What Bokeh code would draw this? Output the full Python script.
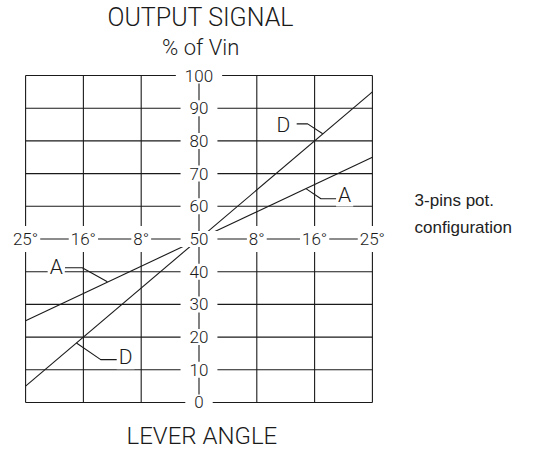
from bokeh.plotting import figure
from bokeh.models import Range1d
from bokeh.core.properties import value
from bokeh.embed import file_html
from bokeh.resources import INLINE

# ---- data ----
grid_pos = [-3, -2, -1, 0, 1, 2, 3]            # evenly spaced angle grid lines
angle_pos = [-3, -2, -1, 1, 2, 3]
angle_labels = ["25°", "16°", "8°", "8°", "16°", "25°"]
pct_ticks = [0, 10, 20, 30, 40, 50, 60, 70, 80, 90, 100]
pct_labels = ["0", "10", "20", "30", "40", "50", "60", "70", "80", "90", "100"]

curve_x = [-3, 3]
curve_A = [25, 75]
curve_D = [5, 95]

# curve tags (label position) and leader polylines
tag_text = ["D", "A", "A", "D"]
tag_x = [1.46, 2.52, -2.47, -1.27]
tag_y = [85.0, 63.6, 41.3, 13.8]
leaders_x = [[1.69, 1.88, 2.14], [2.38, 2.11, 1.85], [-2.32, -2.02, -1.585], [-1.41, -1.70, -2.12]]
leaders_y = [[85.2, 85.2, 82.2], [62.3, 62.3, 65.4], [41.2, 41.2, 36.9], [13.1, 13.1, 18.2]]

title_lines = ["OUTPUT SIGNAL", "% of Vin"]
xlabel = "LEVER ANGLE"
note_lines = ["3-pins pot.", "configuration"]

INK = "#1a1a1a"
CAD = value("Roboto Light, DejaVu Sans")

p = figure(width=540, height=450, output_backend="svg", toolbar_location=None,
           x_axis_location=None, y_axis_location=None, min_border=0,
           x_range=Range1d(-3.434, 5.908), y_range=Range1d(-14.68, 122.94))
p.outline_line_color = None
p.grid.grid_line_color = None
p.background_fill_color = "white"

# horizontal grid lines
p.segment(x0=[grid_pos[0]] * len(pct_ticks), x1=[grid_pos[-1]] * len(pct_ticks),
          y0=pct_ticks, y1=pct_ticks, line_color=INK, line_width=1.1)
# vertical grid lines (centre one included; labels break it)
p.segment(x0=grid_pos, x1=grid_pos, y0=[pct_ticks[0]] * len(grid_pos), y1=[pct_ticks[-1]] * len(grid_pos),
          line_color=INK, line_width=1.1)

# curves
p.line(x=curve_x, y=curve_A, line_color=INK, line_width=1.1)
p.line(x=curve_x, y=curve_D, line_color=INK, line_width=1.1)

# leaders
p.multi_line(xs=leaders_x, ys=leaders_y, line_color=INK, line_width=1.1)

# labels with white background
p.text(x=[0] * len(pct_ticks), y=pct_ticks, text=pct_labels, text_font=CAD,
       text_font_size="17px", text_align="center", text_baseline="middle", text_color=INK,
       background_fill_color="white", padding=dict(left=9, right=9, top=2, bottom=2))
p.text(x=angle_pos, y=[50] * len(angle_pos), text=angle_labels, text_font=CAD,
       text_font_size="17px", text_align="center", text_baseline="middle", text_color=INK,
       background_fill_color="white", padding=dict(left=2, right=2, top=3, bottom=3))
p.text(x=tag_x, y=tag_y, text=tag_text, text_font=CAD,
       text_font_size="21px", text_align="center", text_baseline="middle", text_color=INK,
       background_fill_color="white", padding=dict(left=2, right=2, top=0, bottom=0))

# titles
p.text(x=[0.03], y=[117.6], text=[title_lines[0]], text_font=CAD,
       text_font_size="25px", text_align="center", text_baseline="middle", text_color=INK)
p.text(x=[0.03], y=[108.7], text=[title_lines[1]], text_font=CAD,
       text_font_size="22px", text_align="center", text_baseline="middle", text_color=INK)
p.text(x=[0.05], y=[-10.1], text=[xlabel], text_font=CAD,
       text_font_size="24px", text_align="center", text_baseline="middle", text_color=INK)

# note
p.text(x=[3.73, 3.73], y=[61.8, 53.5], text=note_lines, text_font=value("Liberation Sans"),
       text_font_size="17px", text_align="left", text_baseline="middle", text_color="#222222")

open("out.html", "w").write(file_html(p, INLINE))
